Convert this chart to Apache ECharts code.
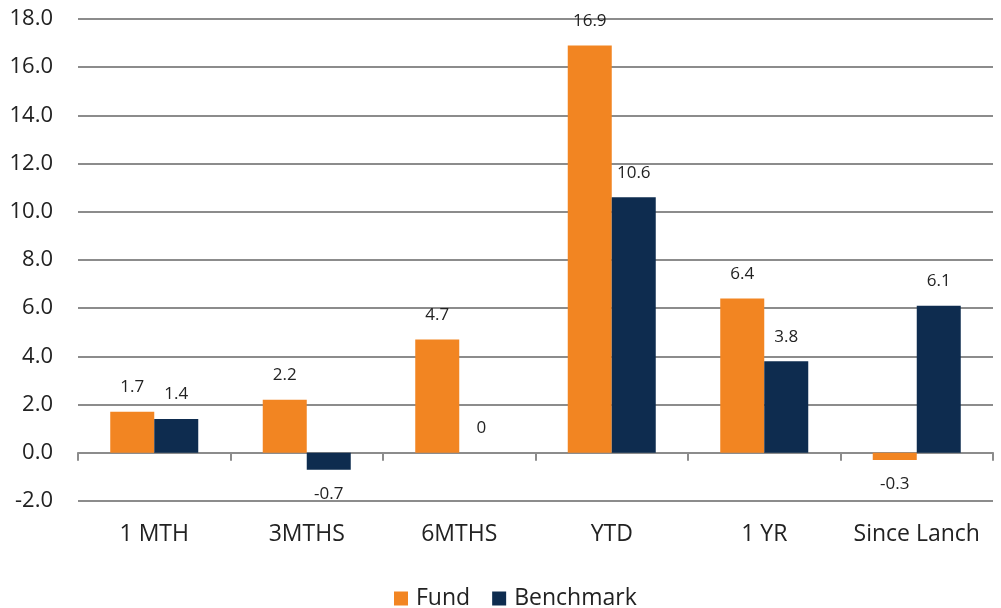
<!DOCTYPE html>
<html>
<head>
<meta charset="utf-8">
<script src="https://cdn.jsdelivr.net/npm/echarts@6/dist/echarts.min.js"></script>
<style>
  html, body { margin: 0; padding: 0; background: #fff; }
  #chart { width: 1001px; height: 608px; }
</style>
</head>
<body>
<div id="chart"></div>
<script>
// categories and values
var categories = ['1 MTH', '3MTHS', '6MTHS', 'YTD', '1 YR', 'Since Lanch'];
var fund = [1.7, 2.2, 4.7, 16.9, 6.4, -0.3];
var benchmark = [1.4, -0.7, 0, 10.6, 3.8, 6.1];

var gridColor = '#8c8c8c';
var font = '"Open Sans", "Noto Sans", sans-serif';

var chart = echarts.init(document.getElementById('chart'));

// data labels: above the bar, below it when the value is negative
function withLabels(values) {
  return values.map(function (v) {
    return v < 0 ? { value: v, label: { position: 'bottom' } } : v;
  });
}

var labelOpt = {
  show: true,
  position: 'top',
  fontFamily: font,
  fontSize: 17,
  color: '#222',
  distance: 16,
  formatter: function (p) { return String(p.value); }
};

chart.setOption({
  animation: false,
  textStyle: { fontFamily: font },
  legend: {
    top: 582,
    left: 389,
    itemWidth: 14,
    itemHeight: 14,
    itemGap: 22,
    icon: 'rect',
    textStyle: { fontSize: 23, color: '#222', fontFamily: font, padding: [0, 0, 0, 3] },
    data: ['Fund', 'Benchmark']
  },
  grid: { left: 78, right: 8, top: 19, bottom: 107, containLabel: false },
  xAxis: [
    {
      // labels at the bottom of the plot
      type: 'category',
      data: categories,
      position: 'bottom',
      axisLine: { show: false, onZero: false },
      axisTick: { show: false },
      axisLabel: { interval: 0, fontSize: 23, color: '#222', margin: 22, fontFamily: font }
    },
    {
      // axis line and ticks at zero
      type: 'category',
      data: categories,
      position: 'bottom',
      axisLine: { show: true, onZero: true, lineStyle: { color: gridColor, width: 2 } },
      axisTick: { show: true, interval: 0, length: 8, lineStyle: { color: gridColor, width: 2 } },
      axisLabel: { show: false }
    }
  ],
  yAxis: {
    type: 'value',
    min: -2,
    max: 18,
    interval: 2,
    axisLine: { show: false },
    axisTick: { show: false },
    axisLabel: {
      fontSize: 22, color: '#222', margin: 25, fontFamily: font,
      formatter: function (v) { return v.toFixed(1); }
    },
    splitLine: { lineStyle: { color: gridColor, width: 2 } }
  },
  series: [
    {
      name: 'Fund',
      type: 'bar',
      data: withLabels(fund),
      barWidth: 44,
      barGap: '0%',
      itemStyle: { color: '#f28522' },
      label: labelOpt
    },
    {
      name: 'Benchmark',
      type: 'bar',
      data: withLabels(benchmark),
      barWidth: 44,
      barGap: '0%',
      itemStyle: { color: '#0e2c4f' },
      label: labelOpt
    }
  ]
});
</script>
</body>
</html>
